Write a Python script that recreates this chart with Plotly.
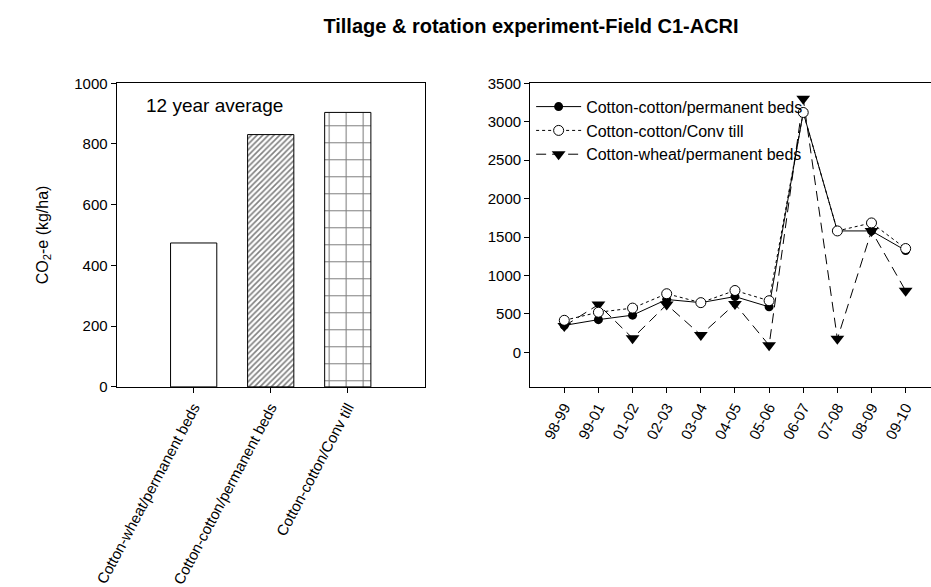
import plotly.graph_objects as go

# ---- data ----
bar_categories = ["Cotton-wheat/permanent beds", "Cotton-cotton/permanent beds", "Cotton-cotton/Conv till"]
bar_values = [474, 831, 904]

seasons = ["98-99", "99-01", "01-02", "02-03", "03-04", "04-05", "05-06", "06-07", "07-08", "08-09", "09-10"]
cc_perm_beds = [350, 425, 483, 687, 646, 725, 591, 3120, 1579, 1579, 1325]
cc_conv_till = [416, 521, 575, 762, 646, 804, 671, 3120, 1579, 1683, 1350]
cw_perm_beds = [341, 621, 183, 621, 225, 629, 91, 3300, 175, 1579, 800]

W, H = 931, 587
FONT = "Arial, Liberation Sans, sans-serif"

def px_x(v):
    return v / W

def px_y(v):
    return 1 - v / H

fig = go.Figure()

fig.add_trace(go.Bar(
    x=bar_categories, y=bar_values, width=0.6,
    marker=dict(color="white", line=dict(color="black", width=1),
                pattern=dict(shape=["", "/", "+"], size=[4, 4, 17],
                             solidity=[0.4, 0.4, 0.12], fgcolor="black",
                             bgcolor="white")),
    showlegend=False, xaxis="x", yaxis="y"))

fig.add_trace(go.Scatter(
    x=seasons, y=cw_perm_beds, mode="lines+markers", name="Cotton-wheat/permanent beds",
    line=dict(color="black", width=1, dash="10px,6px"),
    marker=dict(symbol="triangle-down", size=12, color="black"),
    legendrank=3, xaxis="x2", yaxis="y2"))

fig.add_trace(go.Scatter(
    x=seasons, y=cc_perm_beds, mode="lines+markers", name="Cotton-cotton/permanent beds",
    line=dict(color="black", width=1),
    marker=dict(symbol="circle", size=9, color="black"),
    legendrank=1, xaxis="x2", yaxis="y2"))

fig.add_trace(go.Scatter(
    x=seasons, y=cc_conv_till, mode="lines+markers", name="Cotton-cotton/Conv till",
    line=dict(color="black", width=1, dash="dot"),
    marker=dict(symbol="circle", size=10, color="white", line=dict(color="black", width=1)),
    legendrank=2, xaxis="x2", yaxis="y2"))

ydom = [px_y(393.3), px_y(77.3)]
axis_common = dict(showline=True, linecolor="black", linewidth=1, ticks="outside",
                   ticklen=5, tickcolor="black", showgrid=False, zeroline=False,
                   tickfont=dict(family=FONT, size=15, color="black"))

fig.update_layout(
    width=W, height=H, margin=dict(l=0, r=0, t=0, b=0),
    paper_bgcolor="white", plot_bgcolor="white",
    font=dict(family=FONT, color="black"),
    title=dict(text="<b>Tillage & rotation experiment-Field C1-ACRI</b>",
               x=px_x(531), xanchor="center", y=px_y(26), yanchor="middle",
               font=dict(family=FONT, size=20, color="black")),
    xaxis=dict(domain=[px_x(96), px_x(412)], type="category", range=[-1, 3],
               mirror=True, tickangle=-62, anchor="y", **axis_common),
    yaxis=dict(domain=ydom, range=[0, 1000], tickvals=[0, 200, 400, 600, 800, 1000],
               mirror=True, anchor="x", **axis_common),
    xaxis2=dict(domain=[px_x(520), 1.0], type="category", range=[-1, (931 - 555) / 35],
                mirror=True, tickangle=-62, anchor="y2", **axis_common),
    yaxis2=dict(domain=ydom, range=[-450, 3500], tickvals=list(range(0, 3501, 500)),
                mirror=False, anchor="x2", **axis_common),
    legend=dict(x=px_x(521), y=px_y(84), xanchor="left", yanchor="top",
                bgcolor="rgba(0,0,0,0)", itemwidth=45,
                font=dict(family=FONT, size=16, color="black"), tracegroupgap=0),
    bargap=0.4,
    annotations=[
        dict(text="CO<sub>2</sub>-e (kg/ha)", textangle=-90, xref="paper", yref="paper",
             x=px_x(21), y=px_y(235), xanchor="center", yanchor="middle", showarrow=False,
             font=dict(family=FONT, size=16, color="black")),
        dict(text="12 year average", xref="paper", yref="paper",
             x=px_x(124), y=px_y(100), xanchor="left", yanchor="middle", showarrow=False,
             font=dict(family=FONT, size=19, color="black")),
    ],
)

fig.write_html("out.html")
